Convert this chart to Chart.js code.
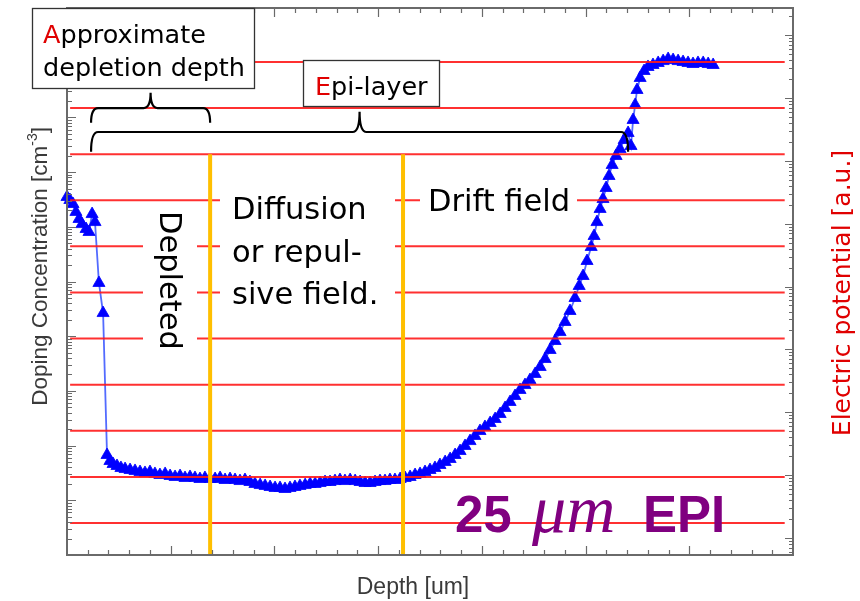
<!DOCTYPE html>
<html>
<head>
<meta charset="utf-8">
<script src="https://cdn.jsdelivr.net/npm/chart.js@4.4.0/dist/chart.umd.min.js"></script>
<style>
  html,body{margin:0;padding:0;background:#fff;}
  canvas{display:block;}
</style>
</head>
<body>
<canvas id="c" width="860" height="601"></canvas>
<script>
// ---------- Measured doping profile (depth in um, concentration in cm^-3) ----------
const depth = [
  0.00,0.14,0.29,0.43,0.58,0.72,0.92,1.06,1.21,1.35,
  1.54,1.74,1.93,2.07,2.22,2.41,2.60,2.80,3.04,3.28,
  3.52,3.76,4.00,4.24,4.48,4.73,4.97,5.21,5.45,5.69,
  5.93,6.17,6.41,6.65,6.90,7.14,7.38,7.62,7.86,8.10,
  8.34,8.58,8.82,9.06,9.31,9.55,9.79,10.03,10.27,10.51,
  10.75,10.99,11.23,11.48,11.72,11.96,12.20,12.44,12.68,12.92,
  13.16,13.40,13.65,13.89,14.13,14.37,14.61,14.85,15.09,15.33,
  15.57,15.81,16.06,16.30,16.54,16.78,17.02,17.26,17.50,17.74,
  17.98,18.23,18.47,18.71,18.95,19.19,19.43,19.67,19.91,20.15,
  20.40,20.64,20.88,21.12,21.36,21.60,21.84,22.08,22.32,22.57,
  22.81,23.05,23.29,23.53,23.77,24.01,24.25,24.49,24.69,24.88,
  25.07,25.27,25.41,25.55,25.70,25.84,25.99,26.13,26.28,26.47,
  26.66,26.86,27.05,27.19,27.29,27.39,27.48,27.63,27.82,28.01,
  28.25,28.50,28.74,28.98,29.22,29.46,29.70,29.94,30.18,30.42,
  30.67,30.91,31.15
];
const doping = [
  3.51e17,3.09e17,2.61e17,1.87e17,1.39e17,1.12e17,9.12e16,8.04e16,1.71e17,1.22e17,
  9.40e15,2.65e15,6.73e12,5.23e12,4.61e12,4.24e12,3.90e12,3.73e12,3.58e12,3.44e12,
  3.29e12,3.16e12,3.29e12,3.03e12,2.90e12,3.03e12,2.78e12,2.67e12,2.78e12,2.56e12,
  2.67e12,2.56e12,2.45e12,2.56e12,2.45e12,2.45e12,2.56e12,2.35e12,2.45e12,2.35e12,
  2.25e12,2.35e12,2.16e12,1.99e12,1.90e12,1.83e12,1.75e12,1.68e12,1.68e12,1.61e12,
  1.68e12,1.75e12,1.83e12,1.90e12,1.99e12,1.99e12,2.07e12,2.16e12,2.16e12,2.25e12,
  2.35e12,2.25e12,2.35e12,2.25e12,2.16e12,2.07e12,2.07e12,2.16e12,2.25e12,2.25e12,
  2.35e12,2.35e12,2.45e12,2.56e12,2.67e12,2.90e12,3.03e12,3.29e12,3.58e12,3.90e12,
  4.42e12,5.01e12,5.69e12,6.73e12,7.96e12,9.84e12,1.21e13,1.50e13,1.85e13,2.19e13,
  2.59e13,3.06e13,3.78e13,4.87e13,6.27e13,8.07e13,1.04e14,1.28e14,1.58e14,2.04e14,
  2.74e14,3.83e14,5.60e14,8.17e14,1.19e15,1.82e15,2.89e15,4.99e15,8.28e15,1.26e16,
  2.37e16,4.28e16,6.79e16,1.22e17,2.12e17,3.22e17,5.12e17,8.49e17,1.35e18,1.97e18,
  2.65e18,3.86e18,5.19e18,3.00e18,8.97e18,1.69e19,3.17e19,5.26e19,7.05e19,8.35e19,
  9.08e19,9.89e19,1.07e20,1.17e20,1.12e20,1.07e20,1.03e20,9.89e19,9.47e19,9.89e19,
  9.89e19,9.47e19,9.08e19
];

// equipotential levels (a.u.) and region boundaries (um)
const potLevels = [0,1,2,3,4,5,6,7,8,9,10];
const regionEdges = [6.90, 16.20];
const epiStart = 1.16, epiEnd = 27.05;

// axis ranges
const X_MAX = 35;
const Y_MIN = 1e11, Y_MAX = 1e21;
const POT_MIN = -0.694, POT_MAX = 11.17;
const Y2_MIN = 0.537, Y2_MAX = 2.69e8;

const datasets = [];
datasets.push({
  data: depth.map((d,i)=>({x:d, y:doping[i]})),
  yAxisID:'y', order:3,
  borderColor:'rgba(40,70,255,0.8)', borderWidth:1.8,
  pointStyle:'triangle', pointRadius:7, pointHoverRadius:7,
  pointBackgroundColor:'#0000ff', pointBorderColor:'#0000ff', pointBorderWidth:0.8,
  tension:0, clip:false
});
for(const lv of potLevels){
  datasets.push({
    data:[{x:0.15, y:lv},{x:34.6, y:lv}],
    yAxisID:'yPot', order:2,
    borderColor:'rgba(255,25,25,0.9)', borderWidth:2, pointRadius:0
  });
}
for(const e of regionEdges){
  datasets.push({
    data:[{x:e, y:POT_MIN},{x:e, y:8}],
    yAxisID:'yPot', order:1,
    borderColor:'#ffbf00', borderWidth:4, pointRadius:0
  });
}

// ---------- frame, ticks and slide annotations ----------
function brace(ctx, x0, x1, yFlat, yEnd, yTip){
  const mid = (x0+x1)/2, r = 7;
  ctx.beginPath();
  ctx.moveTo(x0, yEnd);
  ctx.quadraticCurveTo(x0, yFlat, x0+r, yFlat);
  ctx.lineTo(mid-r, yFlat);
  ctx.quadraticCurveTo(mid, yFlat, mid, yTip);
  ctx.quadraticCurveTo(mid, yFlat, mid+r, yFlat);
  ctx.lineTo(x1-r, yFlat);
  ctx.quadraticCurveTo(x1, yFlat, x1, yEnd);
  ctx.stroke();
}
function redFirst(ctx, text, x, y){
  ctx.fillStyle = '#e00000';
  ctx.fillText(text[0], x, y);
  const w = ctx.measureText(text[0]).width;
  ctx.fillStyle = '#000';
  ctx.fillText(text.slice(1), x+w, y);
}

const annot = {
  id:'annot',
  afterDraw(chart){
    const {ctx, chartArea:a, scales} = chart;
    const sx = scales.x, sy = scales.y, sp = scales.yPot, s2 = scales.y2;
    ctx.save();

    // inward ticks
    ctx.strokeStyle = '#6a6a6a'; ctx.lineWidth = 1.2;
    ctx.beginPath();
    for(let v=1; v<X_MAX; v++){
      const px = Math.round(sx.getPixelForValue(v))+0.5;
      const len = v%5===0 ? 9 : 5;
      ctx.moveTo(px, a.bottom); ctx.lineTo(px, a.bottom-len);
      ctx.moveTo(px, a.top); ctx.lineTo(px, a.top+len);
    }
    for(let e=11; e<21; e++) for(let m=1; m<10; m++){
      const py = Math.round(sy.getPixelForValue(m*Math.pow(10,e)))+0.5;
      const len = m===1 ? 9 : 5;
      ctx.moveTo(a.left, py); ctx.lineTo(a.left+len, py);
    }
    for(let e=-1; e<9; e++) for(let m=1; m<10; m++){
      const v = m*Math.pow(10,e);
      if(v<Y2_MIN || v>Y2_MAX) continue;
      const py = Math.round(s2.getPixelForValue(v))+0.5;
      const len = m===1 ? 8 : 4;
      ctx.moveTo(a.right, py); ctx.lineTo(a.right-len, py);
    }
    ctx.stroke();
    ctx.strokeStyle = '#6a6a6a'; ctx.lineWidth = 2;
    ctx.strokeRect(a.left, a.top, a.width, a.height);

    // axis titles
    ctx.fillStyle = '#3a3a3a';
    ctx.font = '23px "Liberation Sans"';
    ctx.textAlign = 'center'; ctx.textBaseline = 'alphabetic';
    ctx.fillText('Depth [um]', 413, 594);

    ctx.save();
    ctx.textAlign = 'left';
    const t1 = 'Doping Concentration [cm', t2 = '-3', t3 = ']';
    ctx.font = '22.5px "Liberation Sans"';
    const w1 = ctx.measureText(t1).width, w3 = ctx.measureText(t3).width;
    ctx.font = '14px "Liberation Sans"';
    const w2 = ctx.measureText(t2).width;
    ctx.translate(47, 127 + w1 + w2 + w3);
    ctx.rotate(-Math.PI/2);
    ctx.font = '22.5px "Liberation Sans"';
    ctx.fillText(t1, 0, 0);
    ctx.fillText(t3, w1+w2, 0);
    ctx.font = '14px "Liberation Sans"';
    ctx.fillText(t2, w1, -10);
    ctx.restore();

    ctx.save();
    ctx.translate(850, 293);
    ctx.rotate(-Math.PI/2);
    ctx.fillStyle = '#e00000';
    ctx.font = '25px "DejaVu Sans"';
    ctx.textAlign = 'center';
    ctx.fillText('Electric potential [a.u.]', 0, 0);
    ctx.restore();

    // white backing behind the region labels
    ctx.fillStyle = '#fff';
    ctx.fillRect(143, 205, 54, 152);
    ctx.fillRect(220, 185, 175, 133);
    ctx.fillRect(420, 183, 157, 40);

    ctx.fillStyle = '#000';
    ctx.textAlign = 'left';
    ctx.font = '30.5px "DejaVu Sans"';
    ctx.fillText('Diffusion', 232, 219);
    ctx.fillText('or repul-', 232, 262);
    ctx.fillText('sive field.', 232, 304);
    ctx.fillText('Drift field', 428, 211);
    ctx.save();
    ctx.translate(160, 211);
    ctx.rotate(Math.PI/2);
    ctx.fillText('Depleted', 0, 0);
    ctx.restore();

    // braces for depletion depth and epi-layer
    ctx.strokeStyle = '#000'; ctx.lineWidth = 2.2;
    const bx0 = sx.getPixelForValue(epiStart);
    brace(ctx, bx0, sx.getPixelForValue(regionEdges[0]),
      sp.getPixelForValue(9.0), sp.getPixelForValue(8.68), sp.getPixelForValue(9.33));
    brace(ctx, bx0, sx.getPixelForValue(epiEnd),
      sp.getPixelForValue(8.48), sp.getPixelForValue(8.05), sp.getPixelForValue(8.92));

    // framed callouts
    ctx.fillStyle = '#fff';
    ctx.fillRect(32, 8, 223, 81);
    ctx.fillRect(303, 60, 137, 47);
    ctx.strokeStyle = '#333'; ctx.lineWidth = 1.3;
    ctx.strokeRect(32.5, 8.5, 222, 80);
    ctx.strokeRect(303.5, 60.5, 136, 46);
    ctx.font = '25.5px "DejaVu Sans"';
    redFirst(ctx, 'Approximate', 43, 43);
    ctx.fillStyle = '#000';
    ctx.fillText('depletion depth', 43, 76);
    redFirst(ctx, 'Epi-layer', 315, 95);

    // thickness tag
    ctx.fillStyle = '#800080';
    ctx.font = 'bold 51px "Liberation Sans"';
    ctx.fillText('25', 455, 532);
    ctx.fillText('EPI', 643, 532);
    ctx.font = 'italic 68px "Liberation Serif"';
    ctx.fillText('\u03bcm', 532, 532);

    ctx.restore();
  }
};

new Chart(document.getElementById('c'), {
  type:'line',
  data:{datasets},
  options:{
    responsive:false, animation:false, parsing:true,
    layout:{padding:{left:67, right:67, top:8, bottom:46}},
    plugins:{legend:{display:false}, tooltip:{enabled:false}},
    scales:{
      x:{type:'linear', min:0, max:X_MAX, display:false},
      y:{type:'logarithmic', min:Y_MIN, max:Y_MAX, display:false},
      yPot:{type:'linear', min:POT_MIN, max:POT_MAX, display:false},
      y2:{type:'logarithmic', min:Y2_MIN, max:Y2_MAX, display:false}
    }
  },
  plugins:[annot]
});
</script>
</body>
</html>
